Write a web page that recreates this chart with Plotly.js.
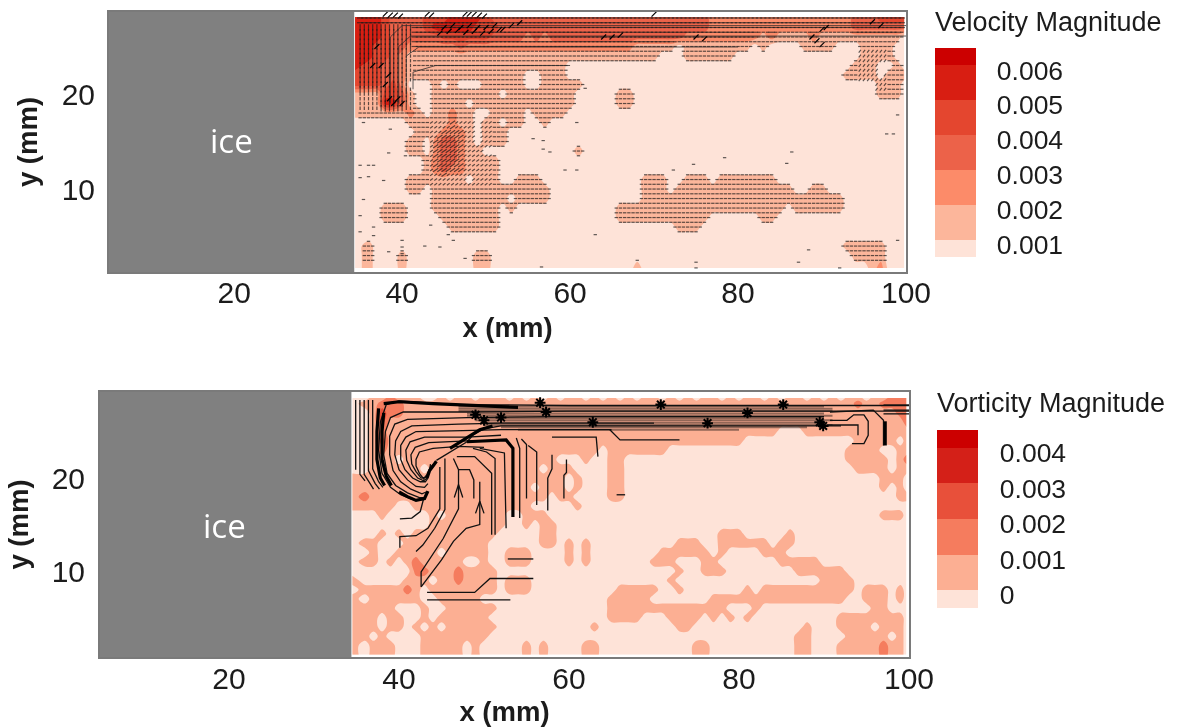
<!DOCTYPE html>
<html><head><meta charset="utf-8">
<script src="https://cdn.plot.ly/plotly-3.0.1.min.js"></script>
<style>html,body{margin:0;padding:0;background:#fff}#chart{width:1178px;height:727px;filter:blur(0.55px)}</style>
</head><body><div id="chart"></div>
<script>
// Column centres of both fields: x = 35..100 mm (first and last nudged to the field edges)
const columnsMm = [34.4,36,37,38,39,40,41,42,43,44,45,46,47,48,49,50,51,52,53,54,55,56,57,58,59,60,61,62,63,64,65,66,67,68,69,70,71,72,73,74,75,76,77,78,79,80,81,82,83,84,85,86,87,88,89,90,91,92,93,94,95,96,97,98,99,99.8];
const columnsMmVort = [34.5,36,37,38,39,40,41,42,43,44,45,46,47,48,49,50,51,52,53,54,55,56,57,58,59,60,61,62,63,64,65,66,67,68,69,70,71,72,73,74,75,76,77,78,79,80,81,82,83,84,85,86,87,88,89,90,91,92,93,94,95,96,97,98,99,99.7];

const velocityRowsY = [28.1,27,26,25,24,23,22,21,20,19,18,17,16,15,14,13,12,11,10,9,8,7,6,5,4,3,1.7];
// Colour band read for each cell (0 = palest ... 6 = darkest); columns grouped 35-44, 45-54, ... 95-100
const velocityBands = [
"5554333344 4555543333 3333333333 3333333333 3322222222 2222222223 334444",
"5554333345 5555444333 3333333333 3333333333 3322222222 2222222223 333333",
"5554333333 4444443333 2323333333 3333333332 2222222212 1111211111 111110",
"5544332222 2232222222 2222222222 2221111101 1111111010 0001111000 111100",
"5544321111 1111111111 1111111111 1111110001 1111100000 0000000000 111100",
"5443321111 1111111111 1111100000 0000000000 0000000000 0000000001 110010",
"4443321111 1111111111 0011100000 0000000000 0000000000 0000000011 110111",
"4443420001 0100011111 0011111000 0000000000 0000000000 0000000000 001110",
"1114431001 1111111011 1111110000 0110000000 0000000000 0000000000 001110",
"1115531001 1110111111 1111110000 0110000000 0000000000 0000000000 000000",
"1111112101 1211001111 0111100000 0000000000 0000000000 0000000000 000000",
"0000001111 1211011011 0010000000 0000000000 0000000000 0000000000 000000",
"0000000111 2221011100 0000000000 0000000000 0000000000 0000000000 000000",
"0000001102 3321011100 0000000000 0000000000 0000000000 0000000000 000000",
"0000001102 3321100000 0000001000 0000000000 0000000000 0000000000 000000",
"0000000012 3321111000 0000000000 0000000000 0000000000 0000000000 000000",
"0000000012 3221111000 0000000000 0000000000 0000000000 0000000000 000000",
"0000001111 1110111001 1100000000 0000111001 1101111111 0000000000 000000",
"0000001101 1111111111 1110000000 0000111011 1111111111 1100110000 000000",
"0000000001 1111111101 1110000000 0000111111 1111111111 1111111100 000000",
"0001110001 1111111010 0000000000 0111111111 1111111111 1011111100 000000",
"0001110000 1111111000 0000000000 0111111111 1100000011 0000000000 000000",
"0000000000 0111111000 0000000000 0000000011 1000000000 0000000000 000000",
"0000000000 0000000000 0000000000 0000000000 0000000000 0000000000 000000",
"0100000000 0000000000 0000000000 0000000000 0000000000 0000000011 111000",
"0100010000 0000110000 0000000000 0000000000 0000000000 0000000001 111000",
"0100010000 0000110000 0000000000 0001000000 0000000000 0000000000 012000"
];
const vorticityRowsY = [28.6,28,27,26,25,24,23,22,21,20,19,18,17,16,15,14,13,12,11,10,9,8,7,6,5,4,3,2,1];
const vorticityBands = [
"0011211100 1011011101 0101011010 1010110101 0110101101 0110101011 011222",
"0112221111 1111111111 1111111111 1111111111 1111111111 1111111112 112222",
"0013221111 1111111111 1111111111 1111111111 1111111111 1111111111 111122",
"0013111111 1111111111 1111111111 1111111111 1111111111 1111111111 111112",
"0012111111 1111111111 1111111111 1111111111 1111111111 0001111111 111111",
"0013111111 1111111111 1111111111 1111111111 1111110000 0000000001 111101",
"0012111111 1111111111 1111111110 1111111000 0000000000 0000000011 110011",
"0011101111 1111111111 1111000100 1100000000 0000000000 0000000011 111012",
"0011111101 1111111111 1101110000 1100000000 0000000000 0000000001 111011",
"1111111111 1111111111 1111101000 1100000000 0000000000 0000000000 001110",
"1111111111 1111111111 1011101000 1100000000 0000000000 0000000000 001010",
"1211111111 1111111111 1110110000 1100000000 0000000000 0000000000 000011",
"1111100111 1111111111 1000001000 0000000000 0000000000 0000000000 000000",
"0001000001 0111111100 1110000000 0000000000 0000000000 0000000000 001110",
"0000000001 1111111100 1011000000 0000000000 0000000000 0000000000 000000",
"0001010111 1111111000 0011000000 0000000000 0001110000 0100000000 000000",
"0110001111 1111110000 0011010100 0000000011 1001111110 1100000000 000000",
"0010011111 0111110011 1000010100 0000001111 1101000011 1000000000 000000",
"0110101211 1110010011 1000010100 0000011100 0110000000 1111100000 000000",
"0000000221 1121111000 0000000000 0000000010 0111000000 0011111100 000000",
"1000001110 1121111011 1000000000 0000000100 0000000000 0000011110 000000",
"0111112101 1111111011 1000000000 0111110010 0000001011 1111111110 111010",
"1011111100 1111100000 0000000000 1111100000 0011111111 1111111100 111010",
"1111100010 0111111000 0000000000 1111111111 1111000100 0000000000 011000",
"1110110010 1111110000 0000000000 1111000111 1010101000 0000000111 111110",
"1110110101 0111111000 0000000010 0000000011 0000000000 0001000111 101110",
"1101000011 1111110000 0000000000 0000000000 0000000000 0011000011 111010",
"1011100011 1110100000 1010000110 0000000000 1100000000 0011000111 112110",
"1011100011 1110100000 1010000110 0000000000 1100000000 0011000111 112110"
];

const velocityColors = ["#fee3d8","#fcb69b","#fc8b69","#ec6249","#e4462f","#d81e12","#cc0000"];
const vorticityColors = ["#fee3d8","#fcaf93","#f57c5e","#e8503a","#d42018","#cc0000"];
const velocityLegendValues = [0.006,0.005,0.004,0.003,0.002,0.001];
const velocityLegendLabels = ["0.006","0.005","0.004","0.003","0.002","0.001"];
const vorticityLegendValues = [0.004,0.003,0.002,0.001,0];
const vorticityLegendLabels = ["0.004","0.003","0.002","0.001","0"];

// Isolated velocity vectors outside the coloured patches (x, y in mm)
const strayVecX = [35.4,38.6,38.4,40.4,35,36,36.6,35,36,37.8,35.4,35,36.6,36.6,35,40,40,40,38.4,42.7,43.4,45.5,46.1,44.5,47.5,55.6,56.8,56.8,57.6,59.4,60.8,60.8,61.8,63,56.6,97.7,98.5,99,86.4,85.8,78.4,74.7,72.3,88.4,75,75,87.2,92.1,99];
const strayVecY = [17,16.3,13.8,13.5,12.5,12.5,12.5,11.2,11.3,10.9,8.9,7.2,6,5.1,5.5,4.6,3.9,3.2,3.4,4,6.2,5.2,4.6,3.9,2.7,15.3,15.1,14.2,13.9,12,12,17,20.6,5.2,1.8,15.8,15.8,17.8,13.9,12.7,13.3,12.6,12,3.6,2.3,1.7,2.3,1.7,4.6];
// Tangled vector clusters on the velocity panel
const velBlobX = [38,38.6,39.2,39.8,43,43.5,47.5,48,48.6,49.2,49.8,38.5,39,39.5,40,44.5,45,45.6,46,46.6,47,47.6,48,48.6,49,49.6,50,50.6,51,51.6,52,53,54,64,65,66,70,75,76,90,90.5,96,97,88.8,89.4,90,38,38.4,37,36.5,37.5];
const velBlobY = [28.4,28.3,28.3,28.2,28.4,28.3,28.4,28.4,28.4,28.3,28.2,19.5,19,19.5,19,26.4,27,26.6,27.2,26.7,27,26.5,27.2,26.6,27,26.4,27,26.6,27.2,26.8,26.8,27.2,27.5,26,26,26.2,28.4,26,25.8,26.8,27,27.6,27.2,26,25.6,25.2,21,22,25,23,23];
const velStreams = [
 {x:[100,50,40,38.6,38.6], y:[27.2,27.2,27.2,26,19]},
 {x:[100,50,41,39.6,39.6], y:[26.1,26.1,26.1,25,19]},
 {x:[80,50,42,40.5,40.5], y:[24.95,24.95,24.95,24,20]},
 {x:[60,44,41.3,41.3], y:[23,23,22.3,20.5]}
];
// Streamlines on the vorticity panel (mm)
const vortStreams = [
 {x:[34.9,34.9],y:[28.4,20.9]},{x:[35.4,35.4,36],y:[28.4,20.4,19.7]},{x:[35.9,35.9,36.6,37],y:[28.4,20.4,19.4,18.8]},
 {x:[36.4,36.4,37.2,37.7],y:[28.4,20.8,19.4,18.8]},{x:[36.9,36.9,37.6,38.1],y:[28.4,21,19.6,19]},
 {x:[100,60,47,40,38.5,37.8,37.6,38,39,40.2,41.5,42.5],y:[27.8,27.8,27.9,28.3,27.9,26,23,20.5,19,18.2,17.7,17.6]},
 {x:[100,60,48,40.5,39,38.4,38.2,38.6,39.6,41,42.4,43],y:[27.2,27.2,27.1,27.1,26.5,25,22.5,20.5,19.2,18.4,17.9,17.9]},
 {x:[90,58,48,41,39.5,38.9,38.9,39.3,40.2,41.4,42.7,43.2],y:[26.6,26.6,26.5,26.3,25.8,24.5,22.5,20.8,19.6,18.8,18.3,18.5]},
 {x:[70,52,47,41.5,40.2,39.6,39.5,40,41,42,43,43.4],y:[25.9,25.9,25.8,25.6,25,24,22.5,20.9,19.8,19.1,19,19.4]},
 {x:[65,52,47.5,42,40.8,40.2,40.2,40.7,41.6,42.5,43.1,43.4],y:[25.2,25.2,25.1,25,24.4,23.5,22,20.9,20,19.6,19.6,20]},
 {x:[52,48,43,41.3,40.8,40.9,41.4,42.2,42.9,43.3,43.6],y:[24.6,24.4,24.4,23.9,23,21.9,20.9,20,19.7,20,20.8]},
 {x:[50,48,43.5,41.9,41.4,41.5,42,42.6,43.2,43.6,43.7],y:[24,24,23.8,23.3,22.5,21.5,20.7,20,20.1,20.8,21.5]},
 {x:[50,47,44,42.4,42,42,42.4,42.9,43.3,43.7,44.4],y:[23.3,23.4,23.2,22.8,22,21.3,20.5,19.9,20.4,21.2,21.7]},
 {x:[44.4,48,48.7,50,52,60,92],y:[21.9,23.9,24.6,25.3,25.6,25.6,25.6]},
 {x:[53.8,54.2,54.2],y:[24.3,23.2,15.7]},{x:[54.4,55,55],y:[24.2,23.6,17.8]},{x:[55.2,56.2,56.2],y:[23.5,22.8,17.1]},
 {x:[58,58,57.5,57.5],y:[22.5,21,20,16.5]},{x:[59.7,59.7,59.4,59.4],y:[22,20.6,20.3,17.8]},
 {x:[58,63.2,63.4],y:[24.4,24.4,22.3]},{x:[64.8,66,73],y:[25.2,24.1,24.1]},
 {x:[48.7,50.3,51.3,51.3],y:[23.2,22.8,22.1,13.9]},{x:[49.5,52.4,52.6],y:[23.2,22.7,14.6]},
 {x:[46.8,48.9,50.9,50.9],y:[22.3,22.3,20.5,13.9]},{x:[47,48.3,48.8,48.8],y:[20.9,20.9,19.8,17.8]},
 {x:[46.4,47,47,45.2,42.6,42.6],y:[22.1,20.9,16.7,13.5,9.9,8.3]},{x:[49.5,49.5,47.9,46.4,45,42.6],y:[19.6,15,14.6,13.2,11.2,8.3]},
 {x:[45.4,45.4,44.2,42.8,42],y:[22.1,16.6,14.6,12.8,12.1]},{x:[44.8,44.8,43.4,42,40.1,40.1],y:[21.2,16.7,14.6,13.8,13.7,12.5]},
 {x:[42.9,42.5,41.5,40.1],y:[17.8,16.4,15.7,15.6]},
 {x:[52.8,55.8],y:[11.3,11.3]},{x:[55.8,50.7,48.9,43.3],y:[9.2,9.2,7.7,7.7]},{x:[43.3,53.1],y:[6.9,6.9]},{x:[65.6,66.6],y:[18.2,18.2]},
 {x:[46.5,47,47.5],y:[17.9,19.3,17.9]},{x:[49,49.5,50],y:[16.2,17.5,16.2]},
 {x:[90.7,95.8,97,97],y:[27.1,27.3,26.2,23.5]},
 {x:[90.7,92.7,93.5,94.7,95.2,95.2,94.7,93.3],y:[26.2,26.2,26.8,26.8,26.1,24.6,23.7,23.7]},
 {x:[90.3,94,94,94],y:[25.7,25.7,25.2,24.6]},
 {x:[97,100],y:[27.85,27.85]},{x:[97,100],y:[27.3,27.3]},{x:[97,100],y:[26.9,26.9]}
];
// Heavy overlaps where many streamlines merge
const vortHeavy = [
 {x:[38.2,40,44,50,54],y:[28,28.2,28,27.8,27.6]},
 {x:[37.6,37.4,37.4,37.8,38.3],y:[27.5,25,22,20,19.2]},
 {x:[38.2,38,38,38.5,39.1],y:[27,25,22,20.2,19.2]},
 {x:[40,41,42,43,43.4],y:[18.5,18,17.6,17.8,18.6]},
 {x:[43.3,43.6,44,44.4],y:[20,20.8,21.3,21.8]},
 {x:[46,48,49.5,51],y:[23.2,24.4,25.2,25.6]},
 {x:[48,52.6,53.4,53.4],y:[23.9,24.1,23.2,15.8]},
 {x:[97.2,97.2],y:[26.1,23.5]}
];
// Overlapping horizontal streaks in the wall band
const bandStreakY = [27.7,27.45,27.2,26.95,26.7,26.45,26.2,25.95,25.7,25.45,25.2];
const bandStreakStart = [47,47,47,48,48,49,49,50,50,52,54];
const bandStreakEnd = [90,91,91,90,91,90,91,90,91,88,80];
const vortKnotX = [56.6,57.3,62.8,52,70.8,76.3,81,85.2,89.5,89.9,49,50];
const vortKnotY = [28.1,27.1,26,26.5,27.9,25.9,27,27.9,26,25.6,26.8,26.2];

function bandsToZ(rows, offset){
  return rows.slice().reverse().map(r => r.replace(/ /g,'').split('').map(d => +d*0.001 + offset));
}
function bandsToLevels(rows){ return rows.map(r => r.replace(/ /g,'').split('').map(Number)); }

// vectors sit on a 0.5 mm measurement lattice wherever the read field is above the first band
const lv = bandsToLevels(velocityBands);
const vecX=[],vecY=[],vecA=[],vecS=[];
for(let r=0;r<velocityRowsY.length-1;r++){
  for(let h=0;h<2;h++){
    const yy = 28-r-h*0.5;
    for(let c=0;c<65;c++){
      for(let k=0;k<2;k++){
        const v=((lv[r][c]*(2-k)+lv[r][c+1]*k)*(2-h)+(lv[r+1][c]*(2-k)+lv[r+1][c+1]*k)*h)/4;
        if(v<0.5) continue;
        const xx=35+c+k*0.5;
        let a=0;
        if(xx<41.5&&yy>18&&yy<27.5) a=90;
        else if(xx>43&&xx<51&&yy>10&&yy<17.5) a=-35;
        else if(xx>94&&xx<98&&yy>20&&yy<25) a=-50;
        vecX.push(xx);vecY.push(yy);vecA.push(a);vecS.push(v>=2?4.5:2.4);
      }
    }
  }
}

const legendFont={family:'Liberation Sans, Arial, sans-serif',size:26.5,color:'#1c1c1c'};
const legendTitleFont={family:'Liberation Sans, Arial, sans-serif',size:27,color:'#1c1c1c'};
function colorscale(cols){return cols.map((c,i)=>[i/(cols.length-1),c]);}
function cbar(x,top,len,vals,labels,shift,tl){
  return {x:x,xanchor:'left',xpad:0,y:1-top/727,yanchor:'top',ypad:0,len:len,lenmode:'pixels',thickness:41,thicknessmode:'pixels',
    outlinewidth:0,tickmode:'array',tickvals:vals.map(v=>v-shift),ticktext:labels,ticks:'outside',ticklen:tl,tickcolor:'rgba(0,0,0,0)',tickfont:legendFont};
}

const traces=[
 {type:'contour',xaxis:'x',yaxis:'y',x:columnsMm,y:velocityRowsY.slice().reverse(),z:bandsToZ(velocityBands,0.0005),
  autocontour:false,contours:{start:0.001,end:0.006,size:0.001,coloring:'fill',showlines:false},line:{width:0},
  colorscale:colorscale(velocityColors),hoverinfo:'skip',
  colorbar:cbar(935/1178,48,209,velocityLegendValues,velocityLegendLabels,0.00014,16)},
 {type:'contour',xaxis:'x2',yaxis:'y2',x:columnsMmVort,y:vorticityRowsY.slice().reverse(),z:bandsToZ(vorticityBands,-0.0005),
  autocontour:false,contours:{start:0,end:0.004,size:0.001,coloring:'fill',showlines:false},line:{width:0},
  colorscale:colorscale(vorticityColors),hoverinfo:'skip',
  colorbar:cbar(937/1178,430,178,vorticityLegendValues,vorticityLegendLabels,0.00014,17)},
 {type:'scatter',mode:'markers',xaxis:'x',yaxis:'y',x:vecX.concat(strayVecX),y:vecY.concat(strayVecY),hoverinfo:'skip',
  marker:{symbol:'line-ew',size:vecS.concat(strayVecX.map(()=>2.4)),angle:vecA.concat(strayVecX.map(()=>0)),line:{width:1.2,color:'#1a1a1a'},color:'#1a1a1a'}},
 ...velStreams.map(s=>({type:'scatter',mode:'lines',xaxis:'x',yaxis:'y',x:s.x,y:s.y,hoverinfo:'skip',line:{width:1,color:'#2a2a2a'},opacity:0.75})),
 {type:'scatter',mode:'markers',xaxis:'x',yaxis:'y',x:velBlobX,y:velBlobY,hoverinfo:'skip',marker:{symbol:'line-ne',size:5,line:{width:1.2,color:'#000'},color:'#000'}},
 ...bandStreakY.map((y,i)=>({type:'scatter',mode:'lines',xaxis:'x2',yaxis:'y2',x:[bandStreakStart[i],bandStreakEnd[i]],y:[y,y],hoverinfo:'skip',line:{width:2,color:'#3a2a24'},opacity:0.55})),
 ...vortStreams.map(s=>({type:'scatter',mode:'lines',xaxis:'x2',yaxis:'y2',x:s.x,y:s.y,hoverinfo:'skip',line:{width:1.3,color:'#111'}})),
 ...vortHeavy.map(s=>({type:'scatter',mode:'lines',xaxis:'x2',yaxis:'y2',x:s.x,y:s.y,hoverinfo:'skip',line:{width:3.2,color:'#000'}})),
 {type:'scatter',mode:'markers',xaxis:'x2',yaxis:'y2',x:vortKnotX,y:vortKnotY,hoverinfo:'skip',marker:{symbol:'asterisk',size:9,line:{width:2,color:'#000'},color:'#000'}}
];

const baseFont={family:'Liberation Sans, Arial, sans-serif',size:30,color:'#1c1c1c'};
const titleFont={family:'Liberation Sans, Arial, sans-serif',size:27.5,color:'#1c1c1c'};
function ax(domain,range,vals,text,standoff,tl,ls){
  return {domain:domain,range:range,tickmode:'array',tickvals:vals,ticktext:vals.map(String),tickfont:baseFont,
   showgrid:false,zeroline:false,showline:true,mirror:true,linecolor:'#7a7a7a',linewidth:2,
   ticks:'outside',ticklen:tl,tickcolor:'rgba(0,0,0,0)',ticklabelstandoff:ls,
   title:{text:'<b>'+text+'</b>',font:titleFont,standoff:standoff},automargin:false};
}
const layout={
 width:1178,height:727,margin:{l:0,r:0,t:0,b:0},paper_bgcolor:'#fff',plot_bgcolor:'#fff',showlegend:false,
 xaxis: Object.assign(ax([109/1178,906/1178],[5.1,100],[20,40,60,80,100],'x (mm)',10,0,-7),{anchor:'y'}),
 yaxis: Object.assign(ax([1-272/727,1-12/727],[1.27,28.63],[10,20],'y (mm)',16,6,0),{anchor:'x'}),
 xaxis2:Object.assign(ax([100/1178,909/1178],[4.82,100],[20,40,60,80,100],'x (mm)',11,0,-6),{anchor:'y2'}),
 yaxis2:Object.assign(ax([1-657/727,1-392/727],[0.76,29.25],[10,20],'y (mm)',15,7,0),{anchor:'x2'}),
 shapes:[
  {type:'rect',xref:'x',yref:'y',x0:5.1,x1:34.3,y0:1.27,y1:28.63,fillcolor:'#808080',line:{width:0},layer:'above'},
  {type:'rect',xref:'x2',yref:'y2',x0:4.82,x1:34.4,y0:0.76,y1:29.25,fillcolor:'#808080',line:{width:0},layer:'above'}
 ],
 annotations:[
  {xref:'x',yref:'y',x:19.7,y:15.1,text:'ice',showarrow:false,font:{family:'Open Sans',size:33,color:'#fff'}},
  {xref:'x2',yref:'y2',x:19.5,y:14.9,text:'ice',showarrow:false,font:{family:'Open Sans',size:33,color:'#fff'}},
  {xref:'paper',yref:'paper',x:935/1178,y:1-22/727,xanchor:'left',yanchor:'middle',text:'Velocity Magnitude',showarrow:false,font:legendTitleFont,xshift:-2},
  {xref:'paper',yref:'paper',x:937/1178,y:1-403/727,xanchor:'left',yanchor:'middle',text:'Vorticity Magnitude',showarrow:false,font:legendTitleFont,xshift:-2}
 ]
};
Plotly.newPlot('chart',traces,layout,{displayModeBar:false,staticPlot:true});
</script></body></html>
